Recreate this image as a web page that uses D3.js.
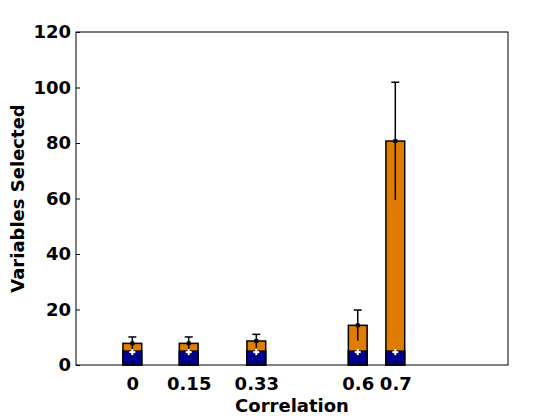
<!DOCTYPE html>
<html>
<head>
<meta charset="utf-8">
<script src="https://cdn.jsdelivr.net/npm/d3@7"></script>
<style>
  body { margin: 0; background: #fff; }
  text { font-family: "DejaVu Sans", sans-serif; font-weight: bold; }
</style>
</head>
<body>
<div id="chart"></div>
<script>
// data
const correlations = [0, 0.15, 0.33, 0.6, 0.7]
const trueVars = [5, 5, 5, 5, 5]
const totalSelected = [7.8, 7.8, 8.65, 14.3, 80.7]
const errSelected = [2.3, 2.3, 2.4, 5.5, 21.2]
const yTicks = [0, 20, 40, 60, 80, 100, 120]

const MARGIN = { LEFT: 76, RIGHT: 52, TOP: 32, BOTTOM: 55 }
const WIDTH = 560 - MARGIN.LEFT - MARGIN.RIGHT
const HEIGHT = 420 - MARGIN.TOP - MARGIN.BOTTOM

const svg = d3.select("#chart").append("svg")
    .attr("width", 560)
    .attr("height", 420)

const g = svg.append("g")
    .attr("transform", `translate(${MARGIN.LEFT}, ${MARGIN.TOP})`)

const x = d3.scaleLinear()
    .domain([-0.15, 1])
    .range([0, WIDTH])

const y = d3.scaleLinear()
    .domain([0, 120])
    .range([HEIGHT, 0])

const barW = x(0.05) - x(0)

// orange = total selected, navy = true variables
g.selectAll("rect.total")
    .data(correlations)
    .enter().append("rect")
    .attr("x", (d, i) => x(d) - barW / 2)
    .attr("y", (d, i) => y(totalSelected[i]))
    .attr("width", barW)
    .attr("height", (d, i) => y(0) - y(totalSelected[i]))
    .attr("fill", "#e07c00")
    .attr("stroke", "#000")
    .attr("stroke-width", 1.5)

g.selectAll("rect.true")
    .data(correlations)
    .enter().append("rect")
    .attr("x", (d, i) => x(d) - barW / 2)
    .attr("y", (d, i) => y(trueVars[i]))
    .attr("width", barW)
    .attr("height", (d, i) => y(0) - y(trueVars[i]))
    .attr("fill", "#00008c")
    .attr("stroke", "#000")
    .attr("stroke-width", 1.5)

// error bars
const eb = g.selectAll("g.err")
    .data(correlations)
    .enter().append("g")
    .attr("stroke", "#000")
    .attr("stroke-width", 1.5)
eb.append("line")
    .attr("x1", d => x(d)).attr("x2", d => x(d))
    .attr("y1", (d, i) => y(totalSelected[i] - errSelected[i]))
    .attr("y2", (d, i) => y(totalSelected[i] + errSelected[i]))
eb.append("line")
    .attr("x1", d => x(d) - 4).attr("x2", d => x(d) + 4)
    .attr("y1", (d, i) => y(totalSelected[i] + errSelected[i]))
    .attr("y2", (d, i) => y(totalSelected[i] + errSelected[i]))
eb.append("rect")
    .attr("x", d => x(d) - 2)
    .attr("y", (d, i) => y(totalSelected[i]) - 2)
    .attr("width", 4).attr("height", 4)
    .attr("fill", "#000").attr("stroke", "none")

// white markers on the true-variable bars
const wm = g.selectAll("g.wm")
    .data(correlations)
    .enter().append("g")
    .attr("stroke", "#fff")
    .attr("stroke-width", 2)
wm.append("line")
    .attr("x1", d => x(d) - 3).attr("x2", d => x(d) + 3)
    .attr("y1", (d, i) => y(trueVars[i]) + 1)
    .attr("y2", (d, i) => y(trueVars[i]) + 1)
wm.append("line")
    .attr("x1", d => x(d)).attr("x2", d => x(d))
    .attr("y1", (d, i) => y(trueVars[i]) - 2)
    .attr("y2", (d, i) => y(trueVars[i]) + 4)

// axes box
g.append("rect")
    .attr("width", WIDTH).attr("height", HEIGHT)
    .attr("fill", "none").attr("stroke", "#000").attr("stroke-width", 1)

const xAxisCall = d3.axisBottom(x)
    .tickValues(correlations)
    .tickFormat(d => String(d))
    .tickSizeInner(-4).tickSizeOuter(0).tickPadding(12)
const xAxis = g.append("g")
    .attr("transform", `translate(0, ${HEIGHT})`)
    .call(xAxisCall)

const yAxisCall = d3.axisLeft(y)
    .tickValues(yTicks)
    .tickSizeInner(-4).tickSizeOuter(0).tickPadding(5)
const yAxis = g.append("g").call(yAxisCall)

for (const ax of [xAxis, yAxis]) {
    ax.select(".domain").remove()
    ax.selectAll("text")
        .attr("font-size", "18px")
        .attr("font-family", "DejaVu Sans, sans-serif")
        .attr("font-weight", "bold")
        .attr("fill", "#000")
}

// labels
g.append("text")
    .attr("x", WIDTH / 2)
    .attr("y", HEIGHT + 47)
    .attr("font-size", "18px")
    .attr("text-anchor", "middle")
    .text("Correlation")
g.append("text")
    .attr("transform", "rotate(-90)")
    .attr("x", -HEIGHT / 2)
    .attr("y", -52)
    .attr("font-size", "18px")
    .attr("text-anchor", "middle")
    .text("Variables Selected")
</script>
</body>
</html>
